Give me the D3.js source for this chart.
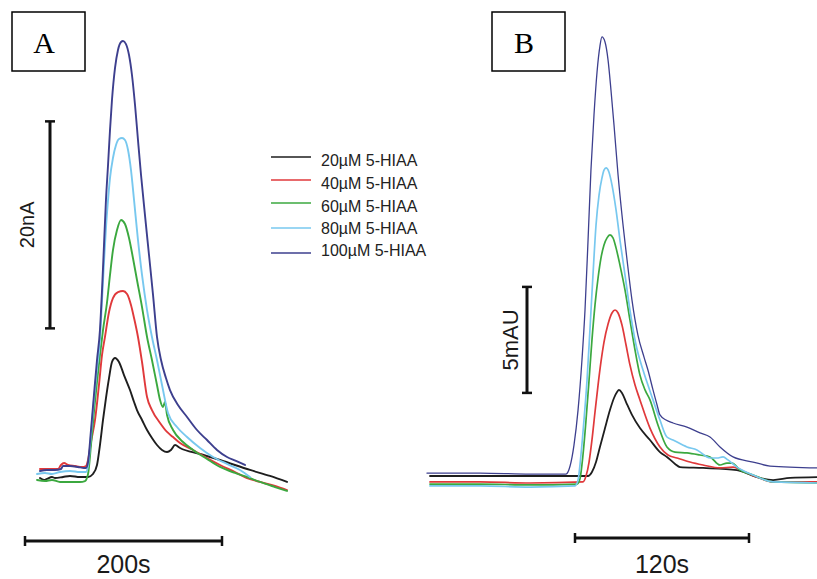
<!DOCTYPE html>
<html><head><meta charset="utf-8">
<script src="https://cdn.jsdelivr.net/npm/d3@7"></script>
<style>html,body{margin:0;padding:0;background:#fff;}svg{display:block;}</style>
</head><body>
<svg id="chart" width="817" height="579"></svg>
<script>
// ---- Data: panel A (time in s, current in nA) ----
const seriesNames = ["20µM 5-HIAA","40µM 5-HIAA","60µM 5-HIAA","80µM 5-HIAA","100µM 5-HIAA"];
const seriesColors = ["#1e1e1e","#e0393b","#3ba83f","#78c8ef","#3d3f8e"];

const a20 = [[15.2,1.64],[19.3,1.45],[22.3,1.55],[27.4,1.74],[30.5,1.64],[38.6,1.74],[45.7,1.84],[55.8,1.74],[64.0,1.74],[69.0,2.03],[73.1,2.90],[76.1,4.83],[79.2,7.25],[82.2,9.37],[85.3,11.30],[88.3,12.85],[91.4,13.24],[95.4,12.85],[100.5,11.59],[106.6,10.14],[110.7,8.99],[113.7,8.21],[118.8,7.25],[123.9,6.28],[128.9,5.51],[134.0,4.83],[139.1,4.35],[144.2,4.15],[148.2,4.35],[152.3,4.83],[157.4,4.54],[177.7,3.96],[198.0,3.38],[228.4,2.42],[248.7,1.84],[266.0,1.26]];
const a40 = [[15.2,2.51],[25.4,2.51],[33.5,2.51],[36.5,2.90],[39.6,3.09],[43.7,2.90],[50.8,2.80],[57.9,2.71],[61.9,2.80],[64.0,3.38],[67.0,5.12],[71.1,7.25],[75.1,10.63],[78.2,13.53],[81.2,15.27],[85.3,17.68],[89.3,19.03],[94.4,19.61],[99.5,19.71],[103.6,19.42],[107.6,18.36],[110.7,17.10],[114.7,15.27],[118.8,12.85],[123.9,9.47],[128.9,8.21],[137.1,6.96],[144.2,6.09],[150.3,5.60],[157.4,5.02],[170.6,4.35],[184.8,3.57],[198.0,2.90],[213.2,2.22],[225.4,1.64],[238.6,1.26],[253.8,0.87],[266.0,0.48]];
const a60 = [[12.2,1.45],[20.3,1.35],[27.4,1.45],[35.5,1.26],[45.7,1.26],[55.8,1.26],[60.9,1.35],[64.0,2.03],[67.0,4.83],[70.0,8.02],[73.1,10.92],[76.1,13.53],[79.2,15.94],[83.2,18.55],[86.3,21.26],[89.3,23.67],[93.4,25.60],[97.5,26.57],[101.5,26.18],[105.6,24.83],[109.6,22.90],[113.7,20.77],[118.8,18.16],[123.9,15.27],[128.9,13.04],[134.0,10.63],[137.1,9.18],[140.1,8.50],[142.1,8.99],[144.2,7.73],[150.3,6.28],[160.4,5.12],[170.6,4.35],[184.8,3.48],[198.0,2.71],[213.2,2.13],[225.4,1.74],[238.6,1.26],[253.8,0.77],[266.0,0.39]];
const a80 = [[12.2,2.03],[20.3,2.13],[27.4,2.03],[35.5,2.22],[45.7,2.32],[55.8,2.22],[61.9,2.22],[64.0,2.80],[67.0,5.80],[70.0,9.18],[73.1,12.27],[76.1,14.98],[78.2,18.84],[80.2,22.51],[82.2,25.80],[84.3,28.50],[86.3,30.63],[89.3,32.56],[92.4,33.82],[95.4,34.40],[98.5,34.49],[101.5,34.30],[104.6,33.33],[107.6,31.40],[110.7,28.50],[114.7,24.64],[118.8,21.26],[123.9,17.87],[128.9,15.27],[134.0,13.04],[139.1,10.63],[145.2,7.92],[154.3,6.57],[164.5,5.60],[177.7,4.54],[190.9,3.67],[205.1,3.00],[218.3,2.42],[228.4,1.74]];
const a100 = [[15.2,2.32],[22.3,2.42],[30.5,2.42],[36.5,2.51],[38.6,2.80],[45.7,2.80],[53.8,2.71],[59.9,2.61],[61.9,2.61],[64.0,3.19],[67.0,6.28],[70.0,9.66],[73.1,13.04],[76.1,15.94],[78.2,19.81],[80.2,24.15],[82.2,28.50],[84.3,31.88],[86.3,35.27],[88.3,38.16],[91.4,41.26],[94.4,43.0],[97.5,43.77],[99.5,43.86],[102.5,43.57],[105.6,42.51],[108.6,40.58],[111.7,37.68],[114.7,34.30],[117.8,30.92],[121.8,27.05],[125.9,23.19],[130.0,19.32],[134.0,15.27],[138.1,13.04],[143.1,11.30],[147.2,10.14],[155.3,8.70],[164.5,7.54],[174.6,6.28],[184.8,5.31],[194.9,4.35],[205.1,3.67],[214.2,3.29],[223.3,2.90]];

// ---- Data: panel B (time in s, absorbance in mAU) ----
const b20 = [[-100.0,0.66],[-65.5,0.66],[-31.0,0.66],[9.0,0.66],[11.7,0.85],[14.5,1.32],[17.2,2.03],[20.7,2.92],[24.1,3.77],[26.9,4.34],[29.0,4.62],[30.3,4.72],[32.4,4.58],[35.2,4.15],[39.3,3.54],[44.8,2.92],[51.7,2.36],[58.6,1.79],[63.4,1.56],[69.0,1.23],[72.4,1.08],[88.3,1.04],[111.7,0.94],[125.5,0.61],[136.6,0.47],[148.3,0.57],[166.9,0.61]];
const b40 = [[-100.0,0.38],[-65.5,0.38],[-31.0,0.33],[5.5,0.38],[7.6,0.66],[9.7,1.32],[11.7,2.36],[13.8,3.68],[15.9,4.95],[17.9,6.04],[20.0,6.98],[22.8,7.83],[25.5,8.35],[27.6,8.49],[29.7,8.35],[32.4,7.78],[35.2,6.84],[37.9,5.90],[41.4,4.95],[44.8,4.25],[51.7,2.92],[58.6,2.03],[64.1,1.65],[70.3,1.51],[79.3,1.32],[88.3,1.18],[100.0,1.04],[109.0,1.08],[117.2,0.85],[125.5,0.61],[136.6,0.38],[166.9,0.38]];
const b60 = [[-100.0,0.28],[-65.5,0.28],[-31.0,0.24],[1.4,0.28],[3.4,0.52],[5.5,1.65],[7.6,3.30],[9.7,5.19],[11.7,7.08],[13.8,8.73],[15.9,10.0],[17.9,10.94],[20.0,11.56],[22.1,11.89],[24.1,12.03],[26.2,11.89],[28.3,11.42],[31.0,10.61],[34.5,9.43],[37.9,8.02],[41.4,6.60],[44.8,5.42],[48.3,4.72],[51.7,4.25],[57.2,3.07],[63.4,2.03],[69.0,1.79],[77.2,1.75],[86.2,1.65],[93.1,1.56],[100.0,1.18],[104.8,1.27],[108.3,1.27],[113.8,0.94],[122.8,0.71],[136.6,0.38],[166.9,0.33]];
const b80 = [[-100.0,0.19],[-65.5,0.19],[-31.0,0.14],[0.0,0.19],[2.1,0.47],[4.1,1.65],[6.2,3.30],[8.3,5.19],[10.3,7.55],[12.4,10.14],[14.5,12.50],[16.6,13.92],[18.6,14.72],[20.0,15.09],[21.4,15.19],[23.4,15.0],[25.5,14.39],[28.3,13.21],[31.0,11.79],[34.5,10.14],[37.9,8.49],[42.1,6.84],[46.9,5.66],[50.3,4.95],[53.8,4.25],[58.6,3.30],[63.4,2.50],[67.6,2.36],[77.2,2.03],[84.1,1.89],[93.1,1.51],[97.9,1.51],[102.1,1.56],[105.5,1.42],[111.7,1.08],[122.8,0.71],[136.6,0.38],[166.9,0.33]];
const b100 = [[-102.1,0.80],[-65.5,0.80],[-31.0,0.75],[-6.2,0.75],[-3.4,1.13],[-0.7,2.12],[2.1,3.77],[4.8,6.13],[6.9,8.49],[9.0,11.79],[11.0,15.09],[13.1,17.69],[15.2,19.72],[17.2,20.94],[18.6,21.37],[20.7,21.13],[22.8,20.28],[24.8,18.87],[26.9,17.22],[29.7,14.86],[32.4,12.97],[35.9,10.85],[39.3,8.96],[43.4,7.31],[47.6,6.27],[50.3,5.66],[53.8,4.72],[56.6,4.01],[58.6,3.54],[62.8,3.30],[67.6,3.16],[77.2,2.97],[86.2,2.69],[93.1,2.50],[100.0,2.03],[109.0,1.56],[122.8,1.32],[134.5,1.13],[166.9,1.04]];

// scale-bar values
const scaleA = {time: 200, timeLabel: "200s", amp: 20, ampStart: 16.1, ampLabel: "20nA"};
const scaleB = {time: 120, timeLabel: "120s", amp: 5, ampStart: 4.58, ampLabel: "5mAU"};
const panelLabels = ["A", "B"];

// ---- Drawing ----
const svg = d3.select("#chart");
const sans = "'Liberation Sans', Arial, Helvetica, sans-serif";
const serif = "'Liberation Serif', 'Times New Roman', serif";

const xA = d3.scaleLinear().domain([0, 200]).range([25, 222]);
const yA = d3.scaleLinear().domain([0, 20]).range([495, 288]);
const xB = d3.scaleLinear().domain([0, 120]).range([575, 749]);
const yB = d3.scaleLinear().domain([0, 5]).range([490, 384]);

function drawPanel(x, y, data, width) {
  const line = d3.line().x(d => x(d[0])).y(d => y(d[1])).curve(d3.curveMonotoneX);
  const g = svg.append("g");
  data.forEach((s, i) => {
    g.append("path").attr("d", line(s)).attr("fill", "none")
      .attr("stroke", seriesColors[i]).attr("stroke-width", width[i])
      .attr("stroke-linejoin", "round").attr("stroke-linecap", "round");
  });
}
drawPanel(xA, yA, [a20, a40, a60, a80, a100], [1.9, 1.9, 1.9, 1.9, 1.9]);
drawPanel(xB, yB, [b20, b40, b60, b80, b100], [1.8, 1.7, 1.7, 1.7, 1.3]);

// scale bars
function hBar(x, t0, t1, yPos, label, labelY) {
  const g = svg.append("g").attr("stroke", "#111").attr("stroke-width", 3);
  g.append("line").attr("x1", x(t0)).attr("x2", x(t1)).attr("y1", yPos).attr("y2", yPos);
  [t0, t1].forEach(t => g.append("line").attr("x1", x(t)).attr("x2", x(t)).attr("y1", yPos - 5).attr("y2", yPos + 5).attr("stroke-width", 2.5));
  svg.append("text").attr("x", (x(t0) + x(t1)) / 2).attr("y", labelY)
    .attr("text-anchor", "middle").attr("font-family", sans).attr("font-size", 25)
    .attr("fill", "#1a1a1a").text(label);
}
function vBar(y, v0, v1, xPos, label, labelX, fs) {
  const g = svg.append("g").attr("stroke", "#111").attr("stroke-width", 3);
  g.append("line").attr("x1", xPos).attr("x2", xPos).attr("y1", y(v0)).attr("y2", y(v1));
  [v0, v1].forEach(v => g.append("line").attr("x1", xPos - 5).attr("x2", xPos + 5).attr("y1", y(v)).attr("y2", y(v)).attr("stroke-width", 2.5));
  const cy = (y(v0) + y(v1)) / 2;
  svg.append("text").attr("transform", `translate(${labelX},${cy}) rotate(-90)`)
    .attr("text-anchor", "middle").attr("dominant-baseline", "central")
    .attr("font-family", sans).attr("font-size", fs).attr("fill", "#1a1a1a").text(label);
}
hBar(xA, 0, scaleA.time, 541, scaleA.timeLabel, 573);
hBar(xB, 0, scaleB.time, 538, scaleB.timeLabel, 573);
vBar(yA, scaleA.ampStart, scaleA.ampStart + scaleA.amp, 50, scaleA.ampLabel, 27, 20);
vBar(yB, scaleB.ampStart, scaleB.ampStart + scaleB.amp, 527, scaleB.ampLabel, 510, 22);

// panel boxes
[[12, panelLabels[0]], [492, panelLabels[1]]].forEach(([bx, lab]) => {
  svg.append("rect").attr("x", bx).attr("y", 12).attr("width", 73).attr("height", 59)
    .attr("fill", "none").attr("stroke", "#000").attr("stroke-width", 1.5);
  svg.append("text").attr("x", bx + 32).attr("y", 53).attr("text-anchor", "middle")
    .attr("font-family", serif).attr("font-size", 30).attr("fill", "#000").text(lab);
});

// legend
const legY = [157, 180, 203, 228, 253];
const legTY = [160, 183, 206, 228, 250];
const leg = svg.append("g");
seriesNames.forEach((n, i) => {
  leg.append("line").attr("x1", 271).attr("x2", 311).attr("y1", legY[i]).attr("y2", legY[i])
    .attr("stroke", seriesColors[i]).attr("stroke-width", 1.3);
  leg.append("text").attr("x", 321).attr("y", legTY[i]).attr("dominant-baseline", "central")
    .attr("font-family", sans).attr("font-size", 16).attr("fill", "#222").text(n);
});
</script>
</body></html>
